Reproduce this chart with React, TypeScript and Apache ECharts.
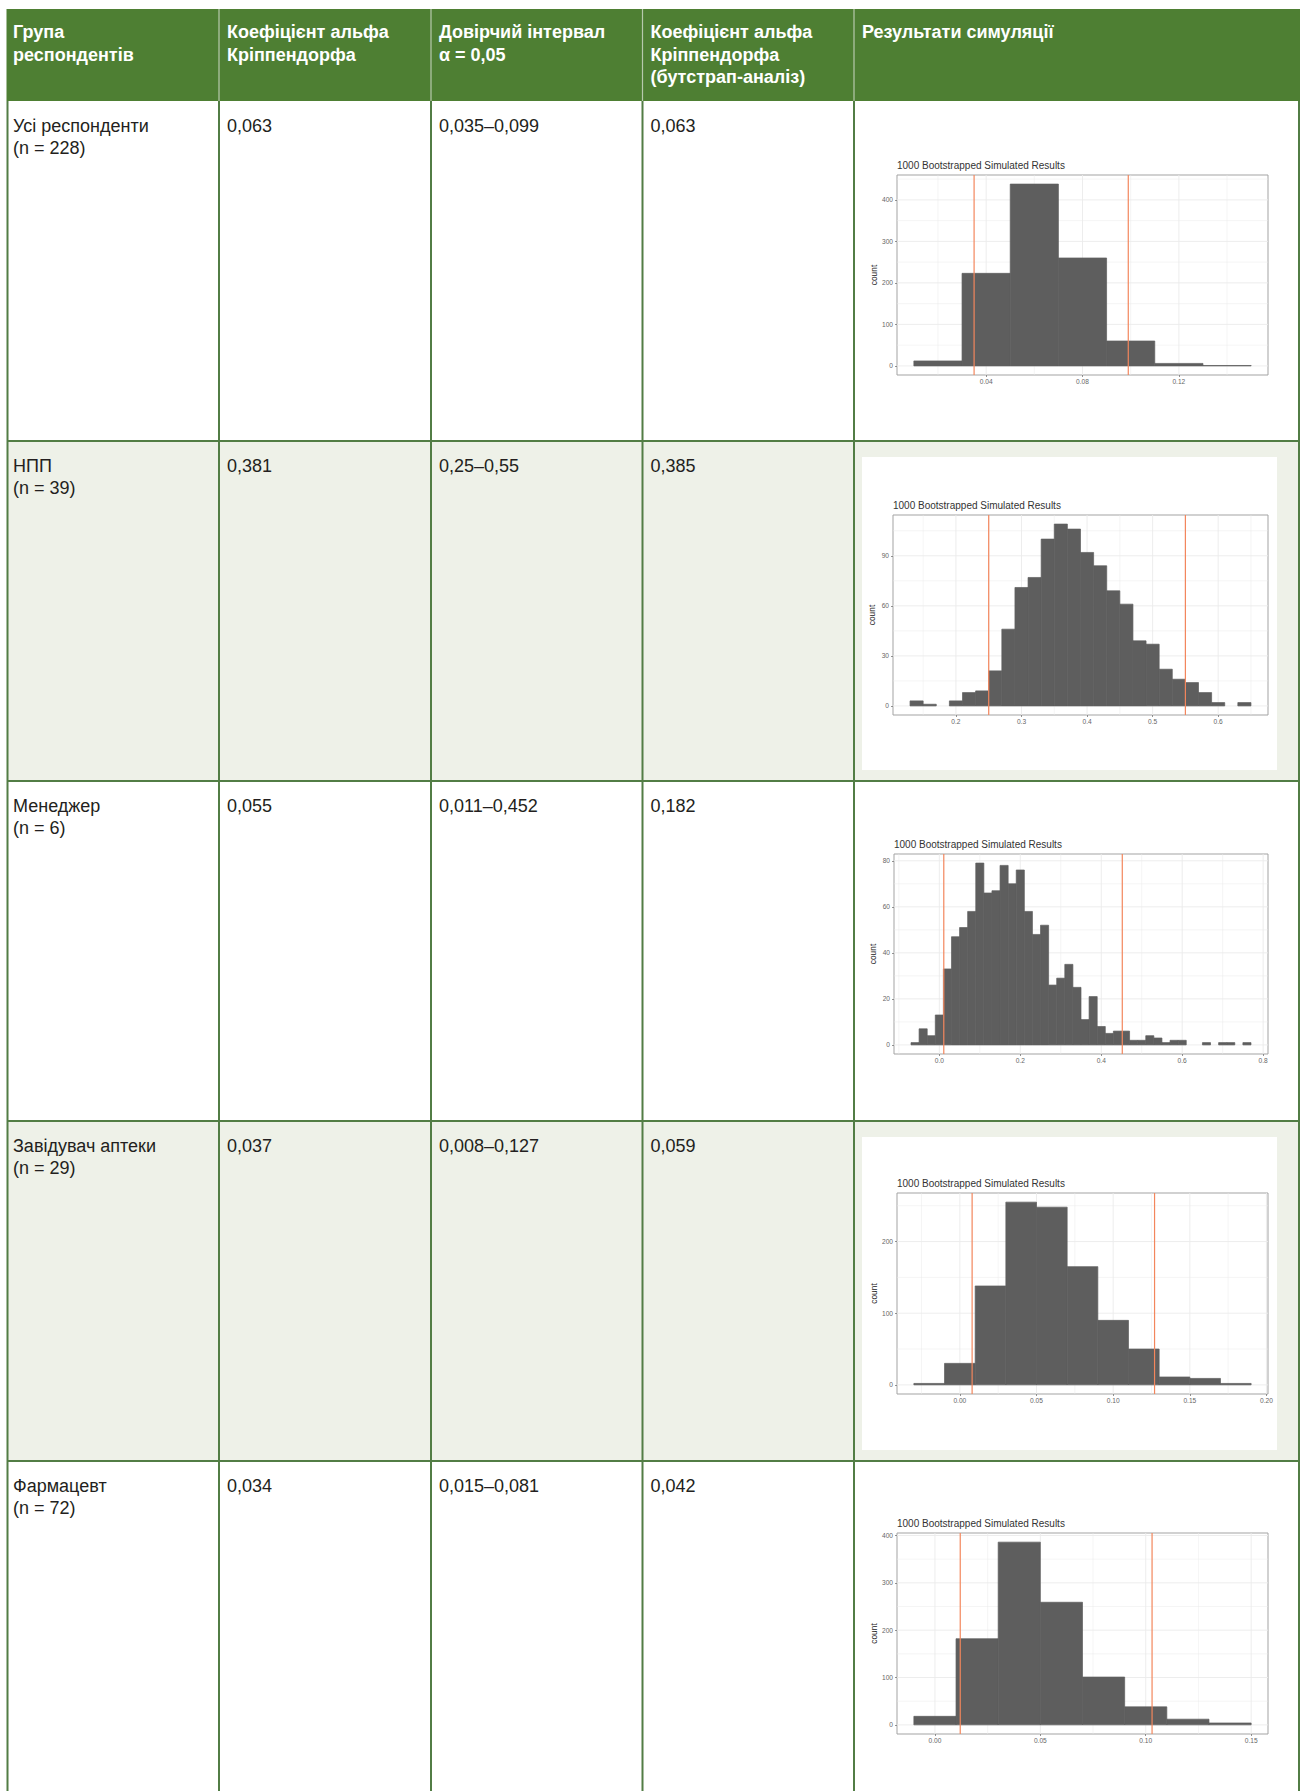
import React, { useEffect, useRef } from "react";
import * as echarts from "echarts";

const FONT = '"Liberation Sans", Arial, Helvetica, sans-serif';

// ---- table content ----
const headerLines = [
  ["Група", "респондентів"],
  ["Коефіцієнт альфа", "Кріппендорфа"],
  ["Довірчий інтервал", "α = 0,05"],
  ["Коефіцієнт альфа", "Кріппендорфа", "(бутстрап-аналіз)"],
  ["Результати симуляції"],
];
const groups = ["Усі респонденти", "НПП", "Менеджер", "Завідувач аптеки", "Фармацевт"];
const groupN = ["(n = 228)", "(n = 39)", "(n = 6)", "(n = 29)", "(n = 72)"];
const alphaValues = ["0,063", "0,381", "0,055", "0,037", "0,034"];
const intervals = ["0,035–0,099", "0,25–0,55", "0,011–0,452", "0,008–0,127", "0,015–0,081"];
const bootAlphas = ["0,063", "0,385", "0,182", "0,059", "0,042"];

// ---- histogram data ----
const chartTitle = "1000 Bootstrapped Simulated Results";
const binWidth = 0.02;
const binStarts = [0.01, 0.13, -0.07, -0.03, -0.01];
const countsAll = [12, 223, 438, 260, 60, 6, 1];
const countsNpp = [3, 1, 0, 3, 8, 9, 21, 46, 71, 77, 100, 109, 106, 92, 84, 69, 61, 39, 37, 22, 16, 14, 8, 2, 0, 2];
const countsManager = [1, 7, 4, 13, 33, 47, 51, 58, 79, 66, 67, 78, 70, 76, 58, 48, 52, 26, 29, 35, 25, 11, 21, 8, 5, 6, 6, 2, 2, 4, 3, 1, 2, 2, 0, 0, 1, 0, 1, 1, 0, 1];
const countsHead = [2, 30, 138, 255, 248, 165, 90, 50, 11, 9, 2];
const countsPharm = [18, 182, 386, 259, 101, 38, 12, 4];
const countsList = [countsAll, countsNpp, countsManager, countsHead, countsPharm];
const ciLines = [[0.035, 0.099], [0.25, 0.55], [0.011, 0.452], [0.008, 0.127], [0.012, 0.103]];
const xRanges = [[0.003, 0.157], [0.104, 0.676], [-0.112, 0.812], [-0.041, 0.201], [-0.018, 0.158]];
const yRanges = [[-21.9, 459.9], [-5.45, 114.45], [-3.95, 82.95], [-12.75, 267.75], [-19.3, 405.3]];
const xTicks = [[0.04, 0.08, 0.12], [0.2, 0.3, 0.4, 0.5, 0.6], [0, 0.2, 0.4, 0.6, 0.8], [0, 0.05, 0.1, 0.15, 0.2], [0, 0.05, 0.1, 0.15]];
const xMinor = [[0.02, 0.06, 0.1, 0.14], [0.15, 0.25, 0.35, 0.45, 0.55, 0.65], [-0.1, 0.1, 0.3, 0.5, 0.7], [-0.025, 0.025, 0.075, 0.125, 0.175], [0.025, 0.075, 0.125]];
const xDecimals = [2, 1, 1, 2, 2];
const yTicks = [[0, 100, 200, 300, 400], [0, 30, 60, 90], [0, 20, 40, 60, 80], [0, 100, 200], [0, 100, 200, 300, 400]];
const yMinor = [[50, 150, 250, 350, 450], [15, 45, 75, 105], [10, 30, 50, 70], [50, 150, 250], [50, 150, 250, 350]];

// ---- layout ----
const colX = [7.5, 219, 431, 642.5, 854, 1299];
const headerTop = 9;
const headerBottom = 101;
const rowTops = [101, 441, 781, 1121, 1461];
const rowH = 340;
const panels = [
  [897, 175, 371, 200],
  [893, 515, 375, 200],
  [894, 854, 374, 200],
  [897, 1193, 371, 201],
  [897, 1533, 371, 201],
];

const GREEN = "#4e7f33";
const LINE = "#527d45";
const SHADE = "#eef1e8";
const BAR = "#5e5e5e";

function buildOption() {
  const graphic: any[] = [];
  // row backgrounds
  rowTops.forEach((t, i) => {
    graphic.push({
      type: "rect", z: -3, silent: true,
      shape: { x: colX[0], y: t, width: colX[5] - colX[0], height: rowH },
      style: { fill: i % 2 === 1 ? SHADE : "#ffffff" },
    });
    if (i % 2 === 1) {
      graphic.push({
        type: "rect", z: -2, silent: true,
        shape: { x: 862, y: t + 16, width: 415, height: 313 },
        style: { fill: "#ffffff" },
      });
    }
  });
  // header
  graphic.push({
    type: "rect", z: -1, silent: true,
    shape: { x: colX[0] - 1, y: headerTop, width: colX[5] - colX[0] + 2, height: headerBottom - headerTop },
    style: { fill: GREEN },
  });
  for (let c = 1; c < 5; c++) {
    graphic.push({
      type: "line", silent: true,
      shape: { x1: colX[c], y1: headerTop, x2: colX[c], y2: headerBottom },
      style: { stroke: "#b7c9ad", lineWidth: 1.2 },
    });
  }
  // body grid lines
  for (let c = 0; c < 6; c++) {
    graphic.push({
      type: "line", silent: true,
      shape: { x1: colX[c], y1: headerBottom, x2: colX[c], y2: 1800 },
      style: { stroke: LINE, lineWidth: 2 },
    });
  }
  for (let r = 1; r < rowTops.length; r++) {
    graphic.push({
      type: "line", silent: true,
      shape: { x1: colX[0], y1: rowTops[r], x2: colX[5], y2: rowTops[r] },
      style: { stroke: LINE, lineWidth: 2 },
    });
  }
  // header texts
  headerLines.forEach((lines, c) => {
    lines.forEach((txt, k) => {
      graphic.push({
        type: "text", silent: true,
        x: c === 0 ? 13 : colX[c] + 8,
        y: 32 + k * 22.5,
        style: {
          text: txt, fill: "#ffffff", fontSize: 18, fontWeight: "bold", fontFamily: FONT,
          align: "left", verticalAlign: "middle",
        },
      });
    });
  });
  // body texts
  rowTops.forEach((t, r) => {
    const cells = [[groups[r], groupN[r]], [alphaValues[r]], [intervals[r]], [bootAlphas[r]]];
    cells.forEach((lines, c) => {
      lines.forEach((txt, k) => {
        graphic.push({
          type: "text", silent: true,
          x: c === 0 ? 13 : colX[c] + 8,
          y: t + 24.5 + k * 22,
          style: {
            text: txt, fill: "#231f20", fontSize: 18, fontFamily: FONT,
            align: "left", verticalAlign: "middle",
          },
        });
      });
    });
  });

  const grids: any[] = [];
  const xAxes: any[] = [];
  const yAxes: any[] = [];
  const titles: any[] = [];
  const series: any[] = [];

  panels.forEach((p, i) => {
    const [left, top, width, height] = p;
    grids.push({
      left, top, width, height, show: true, borderColor: "#a3a3a3", borderWidth: 1,
      backgroundColor: "transparent", containLabel: false,
    });
    titles.push({
      text: chartTitle, left, top: top - 15, padding: 0,
      textStyle: { fontSize: 10, fontWeight: "normal", color: "#333333", fontFamily: FONT },
    });
    xAxes.push({
      type: "value", gridIndex: i, min: xRanges[i][0], max: xRanges[i][1],
      axisLine: { show: false, onZero: false },
      axisTick: { show: true, length: 2, lineStyle: { color: "#777777", width: 0.8 }, customValues: xTicks[i] },
      axisLabel: {
        customValues: xTicks[i], fontSize: 6.6, color: "#666666", margin: 3, fontFamily: FONT,
        formatter: (v: number) => Number(v).toFixed(xDecimals[i]),
      },
      splitLine: { show: false },
    });
    yAxes.push({
      type: "value", gridIndex: i, min: yRanges[i][0], max: yRanges[i][1],
      name: "count", nameLocation: "middle", nameGap: 17,
      nameTextStyle: { fontSize: 8.4, color: "#222222", fontFamily: FONT },
      axisLine: { show: false, onZero: false },
      axisTick: { show: true, length: 2, lineStyle: { color: "#777777", width: 0.8 }, customValues: yTicks[i] },
      axisLabel: {
        customValues: yTicks[i], fontSize: 6.6, color: "#666666", margin: 4, fontFamily: FONT,
        formatter: (v: number) => String(Math.round(v)),
      },
      splitLine: { show: false },
    });

    const gridData: number[][] = [];
    xTicks[i].forEach((v) => gridData.push([v, 0, 1]));
    xMinor[i].forEach((v) => gridData.push([v, 0, 0]));
    yTicks[i].forEach((v) => gridData.push([v, 1, 1]));
    yMinor[i].forEach((v) => gridData.push([v, 1, 0]));
    const x0Ref = xRanges[i][0];
    const y0Ref = yRanges[i][0];
    series.push({
      type: "custom", xAxisIndex: i, yAxisIndex: i, z: 1, silent: true,
      data: gridData,
      renderItem: (params: any, api: any) => {
        const cs = params.coordSys;
        const v = api.value(0);
        const orient = api.value(1);
        const major = api.value(2) === 1;
        const style = { stroke: "#ebebeb", lineWidth: major ? 0.9 : 0.5 };
        if (orient === 0) {
          const px = api.coord([v, y0Ref])[0];
          return { type: "line", shape: { x1: px, y1: cs.y, x2: px, y2: cs.y + cs.height }, style };
        }
        const py = api.coord([x0Ref, v])[1];
        return { type: "line", shape: { x1: cs.x, y1: py, x2: cs.x + cs.width, y2: py }, style };
      },
    });

    const bars = countsList[i].map((c, k) => [binStarts[i] + k * binWidth, binStarts[i] + (k + 1) * binWidth, c]);
    series.push({
      type: "custom", xAxisIndex: i, yAxisIndex: i, z: 2, silent: true,
      encode: { x: [0, 1], y: 2 },
      data: bars,
      renderItem: (params: any, api: any) => {
        const a = api.value(0);
        const b = api.value(1);
        const c = api.value(2);
        if (!(c > 0)) return null;
        const p0 = api.coord([a, c]);
        const p1 = api.coord([b, 0]);
        return {
          type: "rect",
          shape: { x: p0[0], y: p0[1], width: p1[0] - p0[0], height: p1[1] - p0[1] },
          style: { fill: BAR, stroke: BAR, lineWidth: 0.7 },
        };
      },
    });

    series.push({
      type: "custom", xAxisIndex: i, yAxisIndex: i, z: 3, silent: true,
      data: ciLines[i].map((v) => [v, 0]),
      renderItem: (params: any, api: any) => {
        const cs = params.coordSys;
        const px = api.coord([api.value(0), 0])[0];
        return {
          type: "line",
          shape: { x1: px, y1: cs.y, x2: px, y2: cs.y + cs.height },
          style: { stroke: "#f3865c", lineWidth: 1.2 },
        };
      },
    });
  });

  return {
    animation: false,
    backgroundColor: "#ffffff",
    title: titles,
    grid: grids,
    xAxis: xAxes,
    yAxis: yAxes,
    series,
    graphic: { elements: graphic },
  };
}

export default function App() {
  const ref = useRef<HTMLDivElement>(null);
  useEffect(() => {
    if (!ref.current) return;
    const chart = echarts.init(ref.current, undefined, { renderer: "svg" });
    chart.setOption(buildOption() as any);
    return () => chart.dispose();
  }, []);
  return (
    <div
      ref={ref}
      style={{ position: "absolute", left: 0, top: 0, width: 1307, height: 1791 }}
    />
  );
}
